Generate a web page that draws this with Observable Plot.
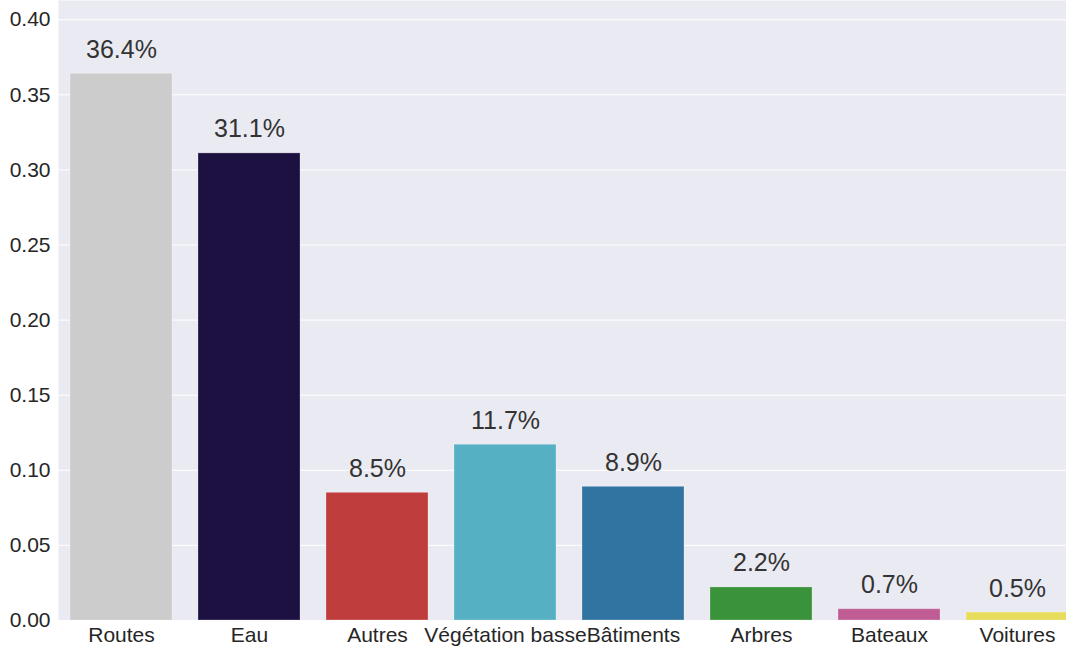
<!DOCTYPE html>
<html>
<head>
<meta charset="utf-8">
<script src="https://cdn.jsdelivr.net/npm/d3@7"></script>
<script src="https://cdn.jsdelivr.net/npm/@observablehq/plot@0.6"></script>
<style>
  html, body { margin: 0; padding: 0; background: #ffffff; }
  #chart svg { display: block; }
</style>
</head>
<body>
<div id="chart"></div>
<script>
const categories = ["Routes", "Eau", "Autres", "Végétation basse", "Bâtiments", "Arbres", "Bateaux", "Voitures"];
const values = [0.364, 0.311, 0.085, 0.117, 0.089, 0.022, 0.0075, 0.0053];
const labels = ["36.4%", "31.1%", "8.5%", "11.7%", "8.9%", "2.2%", "0.7%", "0.5%"];
const colors = ["#cccccc", "#1d1142", "#c03d3e", "#56b0c4", "#3274a1", "#3a923a", "#c05c94", "#e8dc5c"];
const yTicks = [0, 0.05, 0.10, 0.15, 0.20, 0.25, 0.30, 0.35, 0.40];

const data = categories.map((c, i) => ({category: c, value: values[i], label: labels[i], color: colors[i]}));

const chart = Plot.plot({
  width: 1066,
  height: 649,
  marginLeft: 58,
  marginRight: 0,
  marginTop: 0,
  marginBottom: 29,
  style: {fontFamily: "'Liberation Sans', Arial, sans-serif", fontSize: "21px", color: "#262626", background: "#ffffff", overflow: "hidden"},
  x: {domain: categories, paddingInner: 0.2, paddingOuter: 0.1, range: [57, 1081], label: null, tickSize: 0, tickPadding: 7},
  y: {domain: [0, 0.4128], ticks: yTicks, tickFormat: d3.format(".2f"), label: null, tickSize: 0, tickPadding: 8},
  marks: [
    Plot.frame({fill: "#eaeaf2", stroke: null}),
    Plot.gridY(yTicks, {stroke: "#ffffff", strokeOpacity: 1, strokeWidth: 1}),
    Plot.barY(data, {x: "category", y: "value", fill: d => d.color, stroke: "#ffffff", strokeOpacity: 0.25, strokeWidth: 1}),
    Plot.text(data, {x: "category", y: "value", text: "label", lineAnchor: "bottom", dy: -16, fontSize: 25, fill: "#333333"}),
    Plot.axisX({tickSize: 0, tickPadding: 7, fontSize: 21, label: null}),
    Plot.axisY({ticks: yTicks, tickFormat: d3.format(".2f"), tickSize: 0, tickPadding: 8, fontSize: 21, label: null})
  ]
});
document.getElementById("chart").appendChild(chart);
</script>
</body>
</html>
